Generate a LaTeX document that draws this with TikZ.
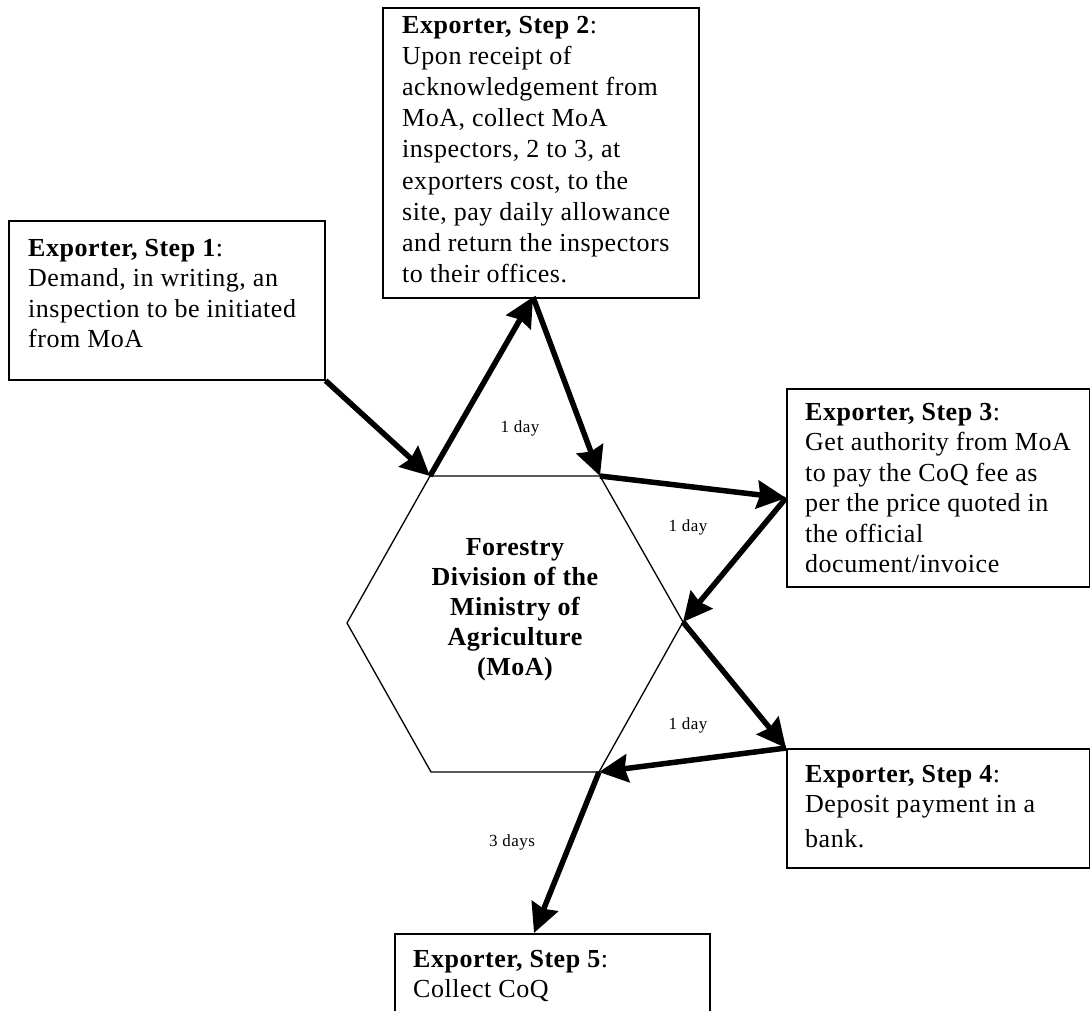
\documentclass[tikz,border=0pt]{standalone}
\usepackage{fontspec}
\setmainfont{Liberation Serif}[LetterSpace=2]
\newfontfamily\lblfont{Liberation Serif}[LetterSpace=3]
\usetikzlibrary{arrows.meta}
\begin{document}
\begin{tikzpicture}[x=1pt,y=-1pt,
  stepbox/.style={draw, line width=1.6pt, rectangle, inner sep=0pt, anchor=north west},
  steptext/.style={anchor=north west, inner sep=0pt, align=left, font=\fontsize{26}{30.5}\selectfont},
  hextext/.style={anchor=north, inner sep=0pt, align=center, font=\bfseries\fontsize{26}{30}\selectfont},
  flow/.style={line width=5.5pt, -{Stealth[length=29pt,width=28pt,inset=3pt]}},
  daylbl/.style={font=\lblfont\fontsize{17}{20}\selectfont, inner sep=0pt}]
\useasboundingbox (0,0) rectangle (1090,1011);
\clip (0,0) rectangle (1090,1011);
\fill[white] (0,0) rectangle (1090,1011);

% boxes
\node[stepbox, minimum width=316pt, minimum height=159pt] (box1) at (8,220) {};
\node[stepbox, minimum width=316pt, minimum height=290pt] (box2) at (382,7) {};
\node[stepbox, minimum width=303pt, minimum height=198pt] (box3) at (786,388) {};
\node[stepbox, minimum width=303pt, minimum height=119pt] (box4) at (786,748) {};
\node[stepbox, minimum width=315pt, minimum height=110pt] (box5) at (394,933) {};

% texts
\node[steptext] (t1) at (28,238) {\rule{0pt}{18pt}\textbf{Exporter, Step 1}:\\Demand, in writing, an\\inspection to be initiated\\from MoA};
\node[steptext, font=\fontsize{26}{31.2}\selectfont] (t2) at (402,15) {\rule{0pt}{18pt}\textbf{Exporter, Step 2}:\\Upon receipt of\\acknowledgement from\\MoA, collect MoA\\inspectors, 2 to 3, at\\exporters cost, to the\\site, pay daily allowance\\and return the inspectors\\to their offices.};
\node[steptext] (t3) at (805,402) {\rule{0pt}{18pt}\textbf{Exporter, Step 3}:\\Get authority from MoA\\to pay the CoQ fee as\\per the price quoted in\\the official\\document/invoice};
\node[steptext] (t4) at (805,764) {\rule{0pt}{18pt}\textbf{Exporter, Step 4}:\\Deposit payment in a\\[4.5pt]bank.};
\node[steptext] (t5) at (413,949) {\rule{0pt}{18pt}\textbf{Exporter, Step 5}:\\Collect CoQ};

% hexagon
\coordinate (hTL) at (430,476);
\coordinate (hTR) at (600,476);
\coordinate (hR) at (683,622);
\coordinate (hBR) at (599,772);
\coordinate (hBL) at (431,772);
\coordinate (hL) at (347,623);
\draw[line width=1.3pt] (hTL) -- (hTR) -- (hR) -- (hBR) -- (hBL) -- (hL) -- cycle;
\node[hextext] (hex) at (515,537) {\rule{0pt}{18pt}Forestry\\Division of the\\Ministry of\\Agriculture\\(MoA)};

% connector end points on boxes
\coordinate (b2in) at (533,297);
\coordinate (b3in) at (786,498);
\coordinate (b5in) at (534,933);

% flow arrows
\draw[flow] (box1.south east) -- (hTL);
\draw[flow] (hTL) -- (b2in);
\draw[flow] (b2in) -- (hTR);
\draw[flow] (hTR) -- (b3in);
\draw[flow] (b3in) -- (hR);
\draw[flow] (hR) -- (box4.north west);
\draw[flow] (box4.north west) -- (hBR);
\draw[flow] (hBR) -- (b5in);

% duration labels
\node[daylbl] (d1) at (520,428) {1 day};
\node[daylbl] (d2) at (688,527) {1 day};
\node[daylbl] (d3) at (688,725) {1 day};
\node[daylbl] (d4) at (512,842) {3 days};
\end{tikzpicture}
\end{document}
